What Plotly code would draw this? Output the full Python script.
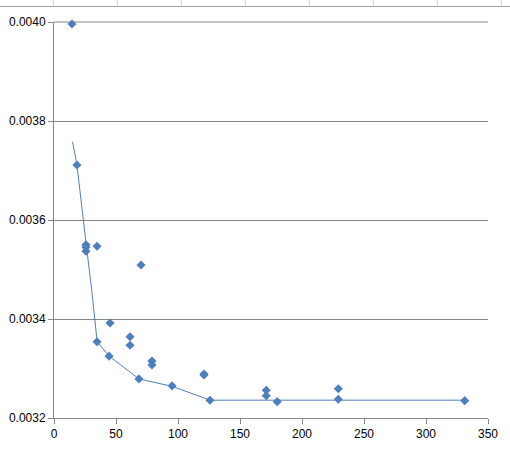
import plotly.graph_objects as go

# Scatter data (observations)
obs_x = [14.5, 18.5, 25.8, 25.8, 25.8, 34.7, 70.2, 45.2, 34.7, 61.3, 61.3, 44.4,
         79.0, 79.0, 68.5, 121.0, 121.0, 95.2, 125.8, 171.2, 171.2, 180.0,
         229.3, 229.3, 331.2]
obs_y = [0.003996, 0.003711, 0.003550, 0.003545, 0.003537, 0.003547, 0.003509,
         0.003392, 0.003354, 0.003364, 0.003347, 0.003325, 0.003315, 0.003307,
         0.003279, 0.003289, 0.003287, 0.003265, 0.003236, 0.003256, 0.003245,
         0.003233, 0.003259, 0.003238, 0.003235]

# Fitted / envelope line
fit_x = [15.0, 18.5, 26.0, 30.4, 34.8, 44.5, 68.5, 95.2, 126.0, 331.0]
fit_y = [0.003758, 0.003711, 0.003550, 0.003459, 0.003354, 0.003325,
         0.003279, 0.003264, 0.003236, 0.003236]

x_ticks = [0, 50, 100, 150, 200, 250, 300, 350]
y_ticks = [0.0032, 0.0034, 0.0036, 0.0038, 0.0040]

blue = "#4f7fbb"
grid = "#868686"
fig = go.Figure()
fig.add_trace(go.Scatter(x=fit_x, y=fit_y, mode="lines", cliponaxis=False,
                         line=dict(color=blue, width=1), hoverinfo="skip"))
fig.add_trace(go.Scatter(x=obs_x, y=obs_y, mode="markers", cliponaxis=False,
                         marker=dict(symbol="diamond", size=7, color=blue)))

font = dict(family="Liberation Sans, Arial, sans-serif", size=12, color="#000000")
fig.update_layout(
    width=510, height=451,
    margin=dict(l=54, r=22, t=22, b=33),
    paper_bgcolor="white", plot_bgcolor="white",
    showlegend=False, font=font,
    xaxis=dict(range=[0, 350], tickvals=x_ticks, showgrid=False, zeroline=False,
               automargin=False,
               showline=True, linecolor=grid, linewidth=1,
               ticks="outside", ticklen=5, tickcolor=grid, tickfont=font),
    yaxis=dict(range=[0.0032, 0.0040], tickvals=y_ticks, tickformat=".4f",
               automargin=False,
               showgrid=True, gridcolor=grid, gridwidth=1, zeroline=False,
               showline=True, linecolor=grid, linewidth=1,
               ticks="outside", ticklen=5, tickcolor=grid, tickfont=font),
)

shapes = []
# top gridline at the upper edge of the value range
shapes.append(dict(type="line", xref="paper", yref="paper", x0=0, x1=1,
                   y0=1, y1=1, line=dict(color=grid, width=1), layer="below"))
# Spreadsheet cell borders peeking above the chart
h_y = (418 - 6.5) / 396
top_y = 418 / 396 + 0.01
shapes.append(dict(type="line", xref="paper", yref="paper", x0=-54/434, x1=456/434,
                   y0=h_y, y1=h_y, line=dict(color="#a0a0a0", width=1)))
for i in range(8):
    px = 53.3 + 64 * i
    xp = (px - 54) / 434
    shapes.append(dict(type="line", xref="paper", yref="paper", x0=xp, x1=xp,
                       y0=h_y, y1=top_y, line=dict(color="#d0d0d0", width=1)))
fig.update_layout(shapes=shapes)

fig.write_html("out.html", config={"displayModeBar": False},
               post_script="document.body.style.margin='0';document.body.style.padding='0';")
